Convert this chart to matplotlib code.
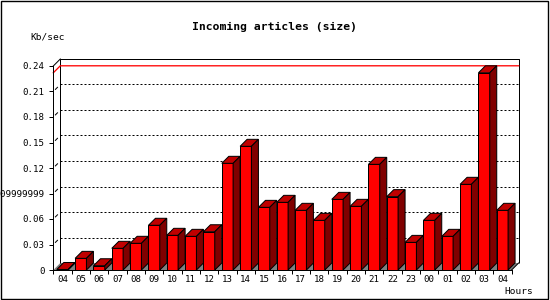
import matplotlib
matplotlib.use("Agg")
import matplotlib.pyplot as plt
from matplotlib.patches import Polygon, Rectangle

# ---- data ----
hours = ["04", "05", "06", "07", "08", "09", "10", "11", "12", "13", "14", "15",
         "16", "17", "18", "19", "20", "21", "22", "23", "00", "01", "02", "03", "04"]
sizes = [0.0006, 0.0137, 0.0050, 0.0255, 0.0314, 0.0526, 0.0408, 0.0396, 0.0450,
         0.1255, 0.1455, 0.0737, 0.0796, 0.0702, 0.0584, 0.0831, 0.0749, 0.1243,
         0.0863, 0.0325, 0.0584, 0.0396, 0.1008, 0.2320, 0.0702]
ytick_values = [0, 0.03, 0.06, 0.09, 0.12, 0.15, 0.18, 0.21, 0.24]
ytick_labels = ["0", "0.03", "0.06", "0.09999999", "0.12", "0.15", "0.18", "0.21", "0.24"]
title = "Incoming articles (size)"
y_unit = "Kb/sec"
x_unit = "Hours"

# ---- layout ----
W, H = 550, 300
PX = 72 / 100.0  # points per pixel
fig = plt.figure(figsize=(W / 100, H / 100), dpi=100)
fig.patch.set_facecolor("white")
x0, y0, x1, y1 = 53.3, 66.0, 511.6, 270.0
ax = fig.add_axes([x0 / W, 1 - y1 / H, (x1 - x0) / W, (y1 - y0) / H])
n = len(hours)
ymax = ytick_values[-1]
ax.set_xlim(0, n)
ax.set_ylim(0, ymax)
ax.patch.set_visible(False)

DX = 7 * n / (x1 - x0)
DY = 7 * ymax / (y1 - y0)
lw = 1.0 * PX
mono = "DejaVu Sans Mono"

for s in ("top", "right"):
    ax.spines[s].set_visible(False)
for s in ("left", "bottom"):
    ax.spines[s].set_linewidth(lw)
    ax.spines[s].set_zorder(6)

# floor
ax.add_patch(Polygon([(0, 0), (n, 0), (n + DX, DY), (DX, DY)], closed=True,
                     fc="#808080", ec="none", zorder=1, clip_on=False))
# back wall
ax.plot([DX, DX, n + DX, n + DX], [DY, ymax + DY, ymax + DY, DY], color="k",
        lw=lw, zorder=1.5, clip_on=False, solid_capstyle="butt")
ax.plot([0, DX], [ymax, ymax + DY], color="k", lw=lw, zorder=1.5, clip_on=False)
ax.plot([n, n + DX], [0, DY], color="k", lw=lw, zorder=1.5, clip_on=False)
# grid
for t in ytick_values[1:-1]:
    ax.plot([DX, n + DX], [t + DY, t + DY], color="k", lw=lw,
            linestyle=(0, (2, 2)), zorder=1.5, clip_on=False)
    ax.plot([0.3 * DX, 0.6 * DX], [t + 0.3 * DY, t + 0.6 * DY], color="k",
            lw=lw, zorder=1.5, clip_on=False)

# max line
m = max(sizes)
ax.plot([0, DX, n + DX], [m, m + DY, m + DY], color="red", lw=lw * 1.3,
        zorder=2, clip_on=False)

# bars
off = 3.5 * n / (x1 - x0)
bw = 11.3 * n / (x1 - x0)
lefts = [i + off for i in range(n)]
ax.bar(lefts, sizes, width=bw, align="edge", color="#ff0000", edgecolor="k",
       linewidth=lw, zorder=4, clip_on=False)
for l, v in zip(lefts, sizes):
    ax.add_patch(Polygon([(l, v), (l + bw, v), (l + bw + DX, v + DY), (l + DX, v + DY)],
                         closed=True, fc="#c00000", ec="k", lw=lw, zorder=4,
                         clip_on=False))
    ax.add_patch(Polygon([(l + bw, 0), (l + bw + DX, DY), (l + bw + DX, v + DY), (l + bw, v)],
                         closed=True, fc="#800000", ec="k", lw=lw, zorder=4,
                         clip_on=False))

# ticks
ax.set_xticks(range(n + 1))
ax.set_xticklabels([""] * (n + 1))
ax.set_xticks([i + 0.5 for i in range(n)], minor=True)
ax.set_xticklabels(hours, minor=True, fontfamily=mono, fontsize=6.6)
ax.tick_params(axis="x", which="major", length=4 * PX, width=lw, direction="out")
ax.tick_params(axis="x", which="minor", length=0, pad=5.5 * PX)
ax.set_yticks(ytick_values)
ax.set_yticklabels(ytick_labels, fontfamily=mono, fontsize=6.6)
ax.tick_params(axis="y", length=4 * PX, width=lw, direction="out", pad=4.5 * PX)

# texts
fig.text(274 / W, 1 - 26.5 / H, title, ha="center", va="center",
         fontfamily=mono, fontweight="bold", fontsize=8.2)
fig.text(47.5 / W, 1 - 37 / H, y_unit, ha="center", va="center",
         fontfamily=mono, fontsize=6.8)
fig.text(519 / W, 1 - 292 / H, x_unit, ha="center", va="center",
         fontfamily=mono, fontsize=6.8)

# frame
fig.add_artist(Rectangle((0.5 / W, 1.5 / H), 547 / W, 298 / H,
                         transform=fig.transFigure, fill=False, ec="k", lw=1.0))

fig.savefig("out.png", dpi=100)
